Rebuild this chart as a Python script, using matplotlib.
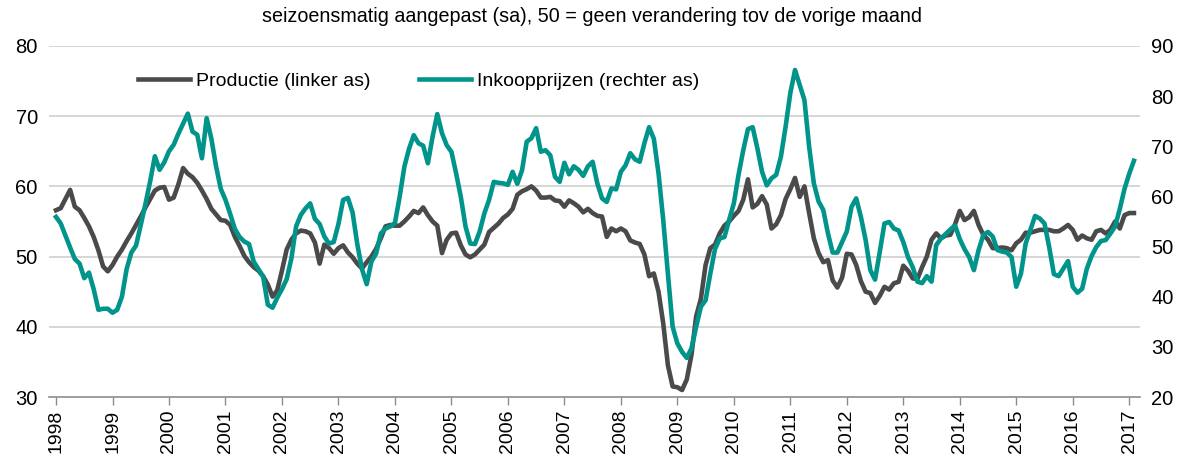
import numpy as np
import pandas as pd
import matplotlib
matplotlib.use("Agg")
import matplotlib.pyplot as plt

plt.rcParams['font.family'] = ['Liberation Sans', 'DejaVu Sans']

# maandelijkse waarden jan 1998 - feb 2017
productie = [
    56.6, 56.9, 58.2, 59.5, 57.1, 56.6, 55.5, 54.3, 52.8, 50.9, 48.6, 47.9,  # 1998
    48.8, 50.0, 51.0, 52.2, 53.3, 54.5, 55.7, 57.0, 58.2, 59.4, 59.8, 59.9,  # 1999
    58.1, 58.4, 60.3, 62.6, 61.8, 61.3, 60.5, 59.4, 58.2, 56.8, 56.0, 55.2,  # 2000
    55.1, 54.5, 52.8, 51.5, 50.1, 49.2, 48.5, 48.0, 47.2, 46.0, 44.3, 45.2,  # 2001
    48.0, 51.0, 52.4, 53.3, 53.7, 53.6, 53.3, 52.0, 49.0, 51.7, 51.2, 50.4,  # 2002
    51.2, 51.6, 50.6, 49.9, 49.0, 48.3, 49.2, 50.0, 51.1, 52.6, 54.3, 54.5,  # 2003
    54.4, 54.4, 55.0, 55.7, 56.5, 56.2, 57.0, 55.9, 55.0, 54.4, 50.5, 52.4,  # 2004
    53.3, 53.4, 51.6, 50.3, 49.9, 50.3, 51.0, 51.7, 53.5, 54.1, 54.7, 55.5,  # 2005
    56.0, 56.8, 58.8, 59.3, 59.6, 60.0, 59.4, 58.4, 58.4, 58.5, 58.0, 57.9,  # 2006
    57.1, 58.0, 57.6, 57.1, 56.3, 56.8, 56.2, 55.8, 55.7, 52.8, 54.0, 53.6,  # 2007
    54.0, 53.6, 52.3, 52.0, 51.8, 50.3, 47.2, 47.6, 45.0, 40.5, 34.5, 31.5,  # 2008
    31.4, 31.0, 32.5, 36.0, 41.5, 44.0, 48.8, 51.2, 51.7, 53.3, 54.4, 55.0,  # 2009
    55.8, 56.5, 58.1, 61.0, 57.0, 57.5, 58.6, 57.4, 54.0, 54.6, 55.9, 58.2,  # 2010
    59.6, 61.2, 58.5, 60.0, 56.2, 52.6, 50.5, 49.2, 49.5, 46.6, 45.6, 47.0,  # 2011
    50.4, 50.3, 48.8, 46.5, 45.0, 44.8, 43.4, 44.4, 45.7, 45.3, 46.2, 46.4,  # 2012
    48.7, 48.0, 46.9, 46.8, 48.5, 50.0, 52.4, 53.3, 52.6, 53.0, 53.1, 54.6,  # 2013
    56.5, 55.2, 55.6, 56.5, 54.5, 53.1, 52.4, 51.2, 51.2, 51.3, 51.2, 50.9,  # 2014
    51.9, 52.4, 53.4, 53.4, 53.6, 53.8, 53.8, 53.8, 53.6, 53.6, 54.0, 54.5,  # 2015
    53.8, 52.4, 53.0, 52.6, 52.4, 53.6, 53.8, 53.3, 53.8, 55.0, 54.0, 55.9,  # 2016
    56.2, 56.2,                                                              # 2017
]

inkoopprijzen = [
    55.9, 54.6, 52.2, 49.8, 47.5, 46.6, 43.7, 44.8, 41.5, 37.4, 37.6, 37.6,  # 1998
    36.8, 37.4, 40.0, 45.5, 48.8, 50.2, 54.3, 58.5, 63.0, 68.0, 65.3, 66.8,  # 1999
    69.0, 70.3, 72.5, 74.5, 76.5, 72.9, 72.3, 67.6, 75.6, 71.5, 66.0, 61.5,  # 2000
    59.3, 56.5, 53.5, 51.9, 51.0, 50.5, 47.0, 45.5, 44.0, 38.4, 37.8, 39.8,  # 2001
    41.5, 43.5, 47.6, 54.0, 56.3, 57.6, 58.6, 55.5, 54.5, 52.0, 50.6, 50.9,  # 2002
    54.5, 59.3, 59.7, 56.8, 50.5, 45.5, 42.5, 47.0, 48.6, 52.6, 53.6, 54.0,  # 2003
    54.7, 59.9, 65.9, 69.5, 72.2, 70.6, 70.1, 66.6, 71.9, 76.4, 72.6, 70.2,  # 2004
    68.9, 64.6, 59.9, 54.0, 50.6, 50.5, 53.0, 56.6, 59.3, 62.9, 62.7, 62.6,  # 2005
    62.3, 64.9, 62.5, 65.2, 70.9, 71.6, 73.6, 68.9, 69.2, 68.2, 63.9, 62.9,  # 2006
    66.7, 64.4, 66.0, 65.3, 64.1, 66.0, 66.9, 62.6, 59.6, 58.9, 61.6, 61.4,  # 2007
    64.9, 66.2, 68.6, 67.4, 66.9, 70.6, 73.8, 71.5, 64.6, 55.3, 44.5, 34.0,  # 2008
    30.7, 29.0, 27.8, 29.7, 34.0, 38.0, 39.3, 44.6, 49.5, 51.6, 51.9, 55.3,  # 2009
    58.6, 64.3, 69.2, 73.4, 73.8, 69.6, 64.9, 62.2, 63.6, 64.3, 67.9, 73.9,  # 2010
    80.6, 85.2, 82.2, 79.2, 69.9, 62.6, 59.0, 57.3, 52.6, 48.8, 48.8, 50.9,  # 2011
    53.0, 57.9, 59.6, 55.9, 51.3, 45.3, 43.4, 48.9, 54.6, 54.9, 53.6, 53.2,  # 2012
    50.9, 47.9, 45.9, 43.0, 42.7, 44.1, 43.0, 50.3, 51.6, 52.5, 53.4, 54.2,  # 2013
    51.5, 49.5, 47.9, 45.3, 49.3, 52.3, 52.9, 52.0, 49.3, 49.0, 48.8, 47.9,  # 2014
    42.0, 44.6, 50.6, 53.3, 56.1, 55.6, 54.6, 49.9, 44.5, 44.1, 45.6, 47.1,  # 2015
    42.0, 40.8, 41.6, 45.6, 48.1, 49.9, 51.1, 51.3, 52.6, 54.0, 57.5, 61.5,  # 2016
    64.5, 67.1,                                                              # 2017
]

jaren = list(range(1998, 2018))
titel = "seizoensmatig aangepast (sa), 50 = geen verandering tov de vorige maand"

maanden = np.arange(len(productie))

fig = plt.figure(figsize=(11.77, 4.59), dpi=100)
ax = fig.add_axes([0.0416, 0.135, 0.927, 0.765])
ax2 = ax.twinx()

grijs = '#4a4a4a'
groen = '#00948a'

l1, = ax.plot(maanden, productie, color=grijs, lw=3.3, solid_joinstyle='round',
              label='Productie (linker as)')
l2, = ax2.plot(maanden, inkoopprijzen, color=groen, lw=3.3, solid_joinstyle='round',
               label='Inkoopprijzen (rechter as)')

ax.set_xlim(-1.5, 230.3)
ax.set_ylim(30, 80)
ax2.set_ylim(20, 90)
ax.set_yticks(range(30, 81, 10))
ax2.set_yticks(range(20, 91, 10))

ax.set_xticks([(j - 1998) * 12 for j in jaren])
ax.set_xticklabels([str(j) for j in jaren], rotation=90)

for a in (ax, ax2):
    for s in ('top', 'left', 'right'):
        a.spines[s].set_visible(False)
    a.tick_params(axis='y', length=0, labelsize=14.5, colors='black', pad=8)
ax2.spines['bottom'].set_visible(False)
ax.spines['bottom'].set_color('#8c8c8c')
ax.spines['bottom'].set_linewidth(1.2)
ax.tick_params(axis='x', length=6, color='#8c8c8c', width=1, labelsize=14, pad=3)

ax.grid(axis='y', color='#d0d0d0', lw=1.2)
ax.set_axisbelow(True)
ax.yaxis.get_gridlines()[0].set_visible(False)

fig.legend(handles=[l1, l2], loc='upper left', bbox_to_anchor=(0.102, 0.881),
           ncol=2, frameon=False, fontsize=14, handlelength=2.7, handletextpad=0.3,
           columnspacing=2.5)

fig.text(0.503, 0.965, titel, ha='center', va='center', fontsize=14.2)

fig.savefig('out.png', dpi=100)
